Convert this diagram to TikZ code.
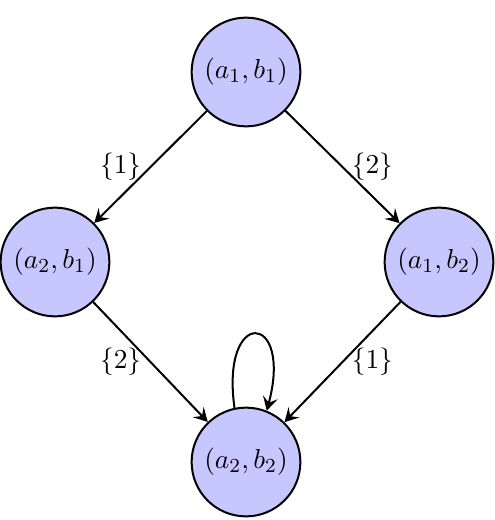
\documentclass[tikz,border=0pt]{standalone}
\usetikzlibrary{arrows.meta}
\begin{document}
\begin{tikzpicture}[x=0.4pt,y=-0.4pt,
  state/.style={circle,draw=black,line width=0.8pt,fill=blue!22,minimum size=43.5pt,inner sep=0pt,font=\fontsize{11}{13}\selectfont},
  edge/.style={-{Stealth[length=5.5pt,width=6pt,inset=2.2pt]},line width=0.8pt},
  lbl/.style={font=\fontsize{10.5}{12}\selectfont}]
\useasboundingbox (0,0) rectangle (494,520);
\node[state] (ab11) at (246,72) {$(a_1,b_1)$};
\node[state] (ab21) at (55,262) {$(a_2,b_1)$};
\node[state] (ab12) at (439,262) {$(a_1,b_2)$};
\node[state] (ab22) at (246,462) {$(a_2,b_2)$};
\draw[edge] (ab11) -- node[left,lbl] {$\{1\}$} (ab21);
\draw[edge] (ab11) -- node[right,lbl] {$\{2\}$} (ab12);
\draw[edge] (ab21) -- node[left,lbl] {$\{2\}$} (ab22);
\draw[edge] (ab12) -- node[right,lbl] {$\{1\}$} (ab22);
\draw[edge] (ab22.102) .. controls +(98:41pt) and +(75:41pt) .. (ab22.68);
\end{tikzpicture}
\end{document}
